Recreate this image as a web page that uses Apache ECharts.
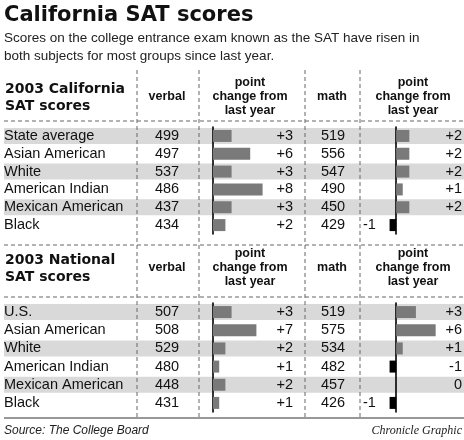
<!DOCTYPE html>
<html><head><meta charset="utf-8">
<script src="https://cdn.jsdelivr.net/npm/echarts@6/dist/echarts.min.js"></script>
<style>html,body{margin:0;padding:0;background:#fff}#c{width:464px;height:440px}</style>
</head><body><div id="c"></div>
<script>
var groupsCA = ['State average','Asian American','White','American Indian','Mexican American','Black'];
var verbalCA = [499,497,537,486,437,434];
var verbalChgCA = [3,6,3,8,3,2];
var mathCA = [519,556,547,490,450,429];
var mathChgCA = [2,2,2,1,2,-1];
var groupsNat = ['U.S.','Asian American','White','American Indian','Mexican American','Black'];
var verbalNat = [507,508,529,480,448,431];
var verbalChgNat = [3,7,2,1,2,1];
var mathNat = [519,575,534,482,457,426];
var mathChgNat = [3,6,1,-1,0,-1];

var F = 'Liberation Sans, Arial, sans-serif';
var chart = echarts.init(document.getElementById('c'));
var g = [];
function txt(x,y,s,o){o=o||{};g.push({type:'text',x:x,y:y,style:{text:s,fill:o.fill||'#111',font:(o.font||'14.5px '+F),textAlign:o.align||'left',textVerticalAlign:'middle'}});}
function line(x1,y1,x2,y2,dash,w){g.push({type:'line',shape:{x1:x1,y1:y1,x2:x2,y2:y2},style:{stroke:dash?'#666':'#333',lineWidth:w||1,lineDash:dash?[4,3]:null}});}

txt(4,16,'California SAT scores',{font:'bold 21px DejaVu Sans, sans-serif'});
txt(4,38,'Scores on the college entrance exam known as the SAT have risen in',{font:'13.5px '+F,fill:'#222'});
txt(4,56,'both subjects for most groups since last year.',{font:'13.5px '+F,fill:'#222'});

function section(rowY, rowH, hdrY, title, groups, v, m, vc, mc){
  for (var i=0;i<6;i+=2) g.push({type:'rect',z:-1,shape:{x:4,y:rowY[0]+i*rowH-8,width:460,height:16},style:{fill:'#d9d9d9'}});
  txt(5,hdrY-8,title[0],{font:'bold 14px DejaVu Sans, sans-serif'});
  txt(5,hdrY+9,title[1],{font:'bold 14px DejaVu Sans, sans-serif'});
  var hf='bold 12.5px '+F;
  txt(167,hdrY,'verbal',{font:hf,align:'center'});
  txt(332,hdrY,'math',{font:hf,align:'center'});
  [250,413].forEach(function(cx){
    txt(cx,hdrY-14,'point',{font:hf,align:'center'});
    txt(cx,hdrY,'change from',{font:hf,align:'center'});
    txt(cx,hdrY+14,'last year',{font:hf,align:'center'});
  });
  for (var i=0;i<6;i++){
    var y=rowY[0]+i*rowH;
    txt(4,y,groups[i]);
    txt(167,y,String(v[i]),{align:'center'});
    txt(333,y,String(m[i]),{align:'center'});
    txt(293,y,(vc[i]>0?'+':'')+vc[i],{align:'right'});
    var ml=(mc[i]>0?'+':'')+mc[i];
    if (mc[i]<0 && i===5) txt(363,y,ml); else txt(462,y,ml,{align:'right'});
  }
}
section([136],17.8,97,['2003 California','SAT scores'],groupsCA,verbalCA,mathCA,verbalChgCA,mathChgCA);
section([312],18.2,268,['2003 National','SAT scores'],groupsNat,verbalNat,mathNat,verbalChgNat,mathChgNat);

line(4,121,464,121,true); line(4,245,464,245,true); line(4,297,464,297,true);
line(4,418,464,418,false,1.2);
[137,199,305,360].forEach(function(x){line(x,70,x,418,true);});
txt(4,431,'Source: The College Board',{font:'italic 12px '+F,fill:'#222'});
txt(462,431,'Chronicle Graphic',{font:'italic 12px Liberation Serif, serif',align:'right',fill:'#222'});

var grids=[
  {left:213,top:127,width:62,height:107},
  {left:383,top:127,width:79,height:107},
  {left:213,top:303,width:62,height:109},
  {left:383,top:303,width:79,height:109}
];
var xAx=grids.map(function(_,i){return {gridIndex:i,type:'value',min:i%2?-2:0,max:10,show:false};});
var yAx=grids.map(function(_,i){return {gridIndex:i,type:'category',inverse:true,data:[0,1,2,3,4,5],
  axisLine:{show:true,onZero:true,lineStyle:{color:'#000',width:1.6}},axisTick:{show:false},axisLabel:{show:false}};});
var dsets=[verbalChgCA,mathChgCA,verbalChgNat,mathChgNat];
var series=dsets.map(function(d,i){return {type:'bar',xAxisIndex:i,yAxisIndex:i,barWidth:12,silent:true,
  data:d.map(function(v){return {value:v,itemStyle:{color:v<0?'#000':'#7a7a7a'}};})};});
chart.setOption({animation:false,grid:grids,xAxis:xAx,yAxis:yAx,series:series,graphic:{elements:g}});
</script></body></html>
